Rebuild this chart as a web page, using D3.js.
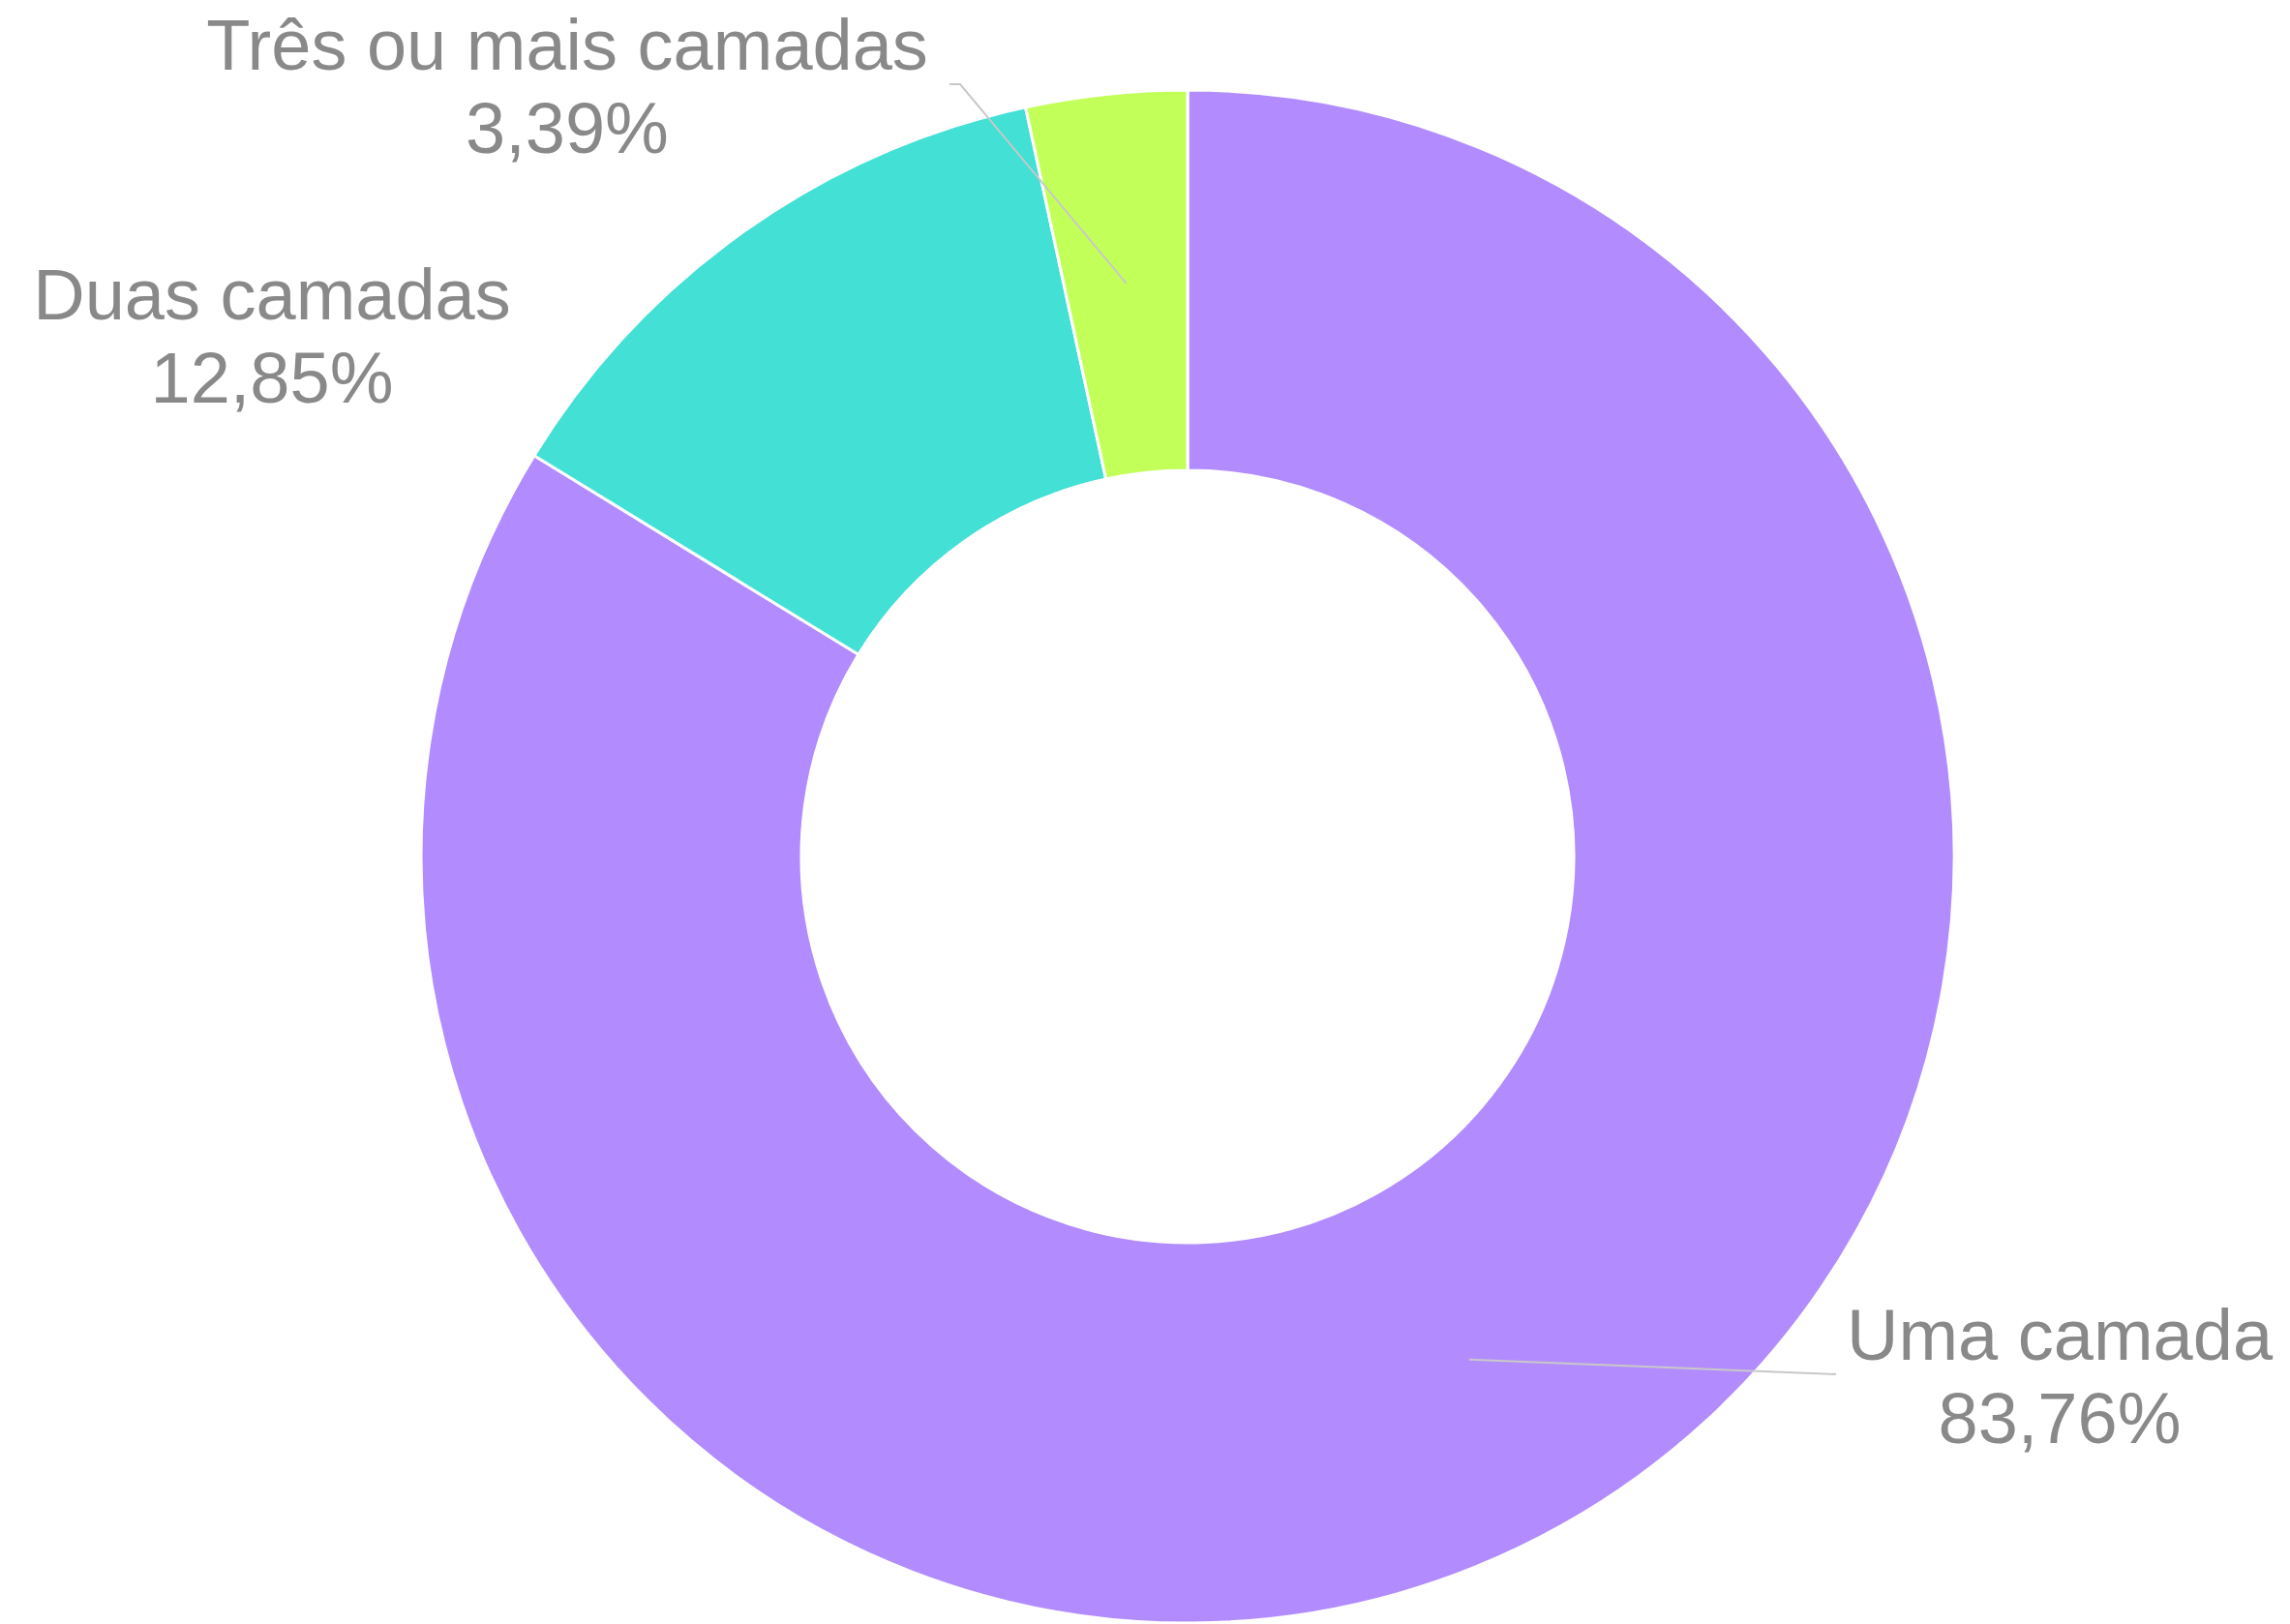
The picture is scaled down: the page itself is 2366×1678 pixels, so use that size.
<!DOCTYPE html>
<html>
<head>
<meta charset="utf-8">
<script src="https://cdn.jsdelivr.net/npm/d3@7"></script>
<style>
  html, body { margin: 0; padding: 0; background: #fff; }
  svg { display: block; }
</style>
</head>
<body>
<div id="chart"></div>
<script>
// data
const categories = ['Uma camada', 'Duas camadas', 'Três ou mais camadas']
const shares = [83.76, 12.85, 3.39]
const colors = ['#b28cfe', '#42e0d5', '#c3ff59']

const width = 2366
const height = 1678
const cx = 1227
const cy = 885
const outerR = 792
const innerR = 399

// label anchors (center x, first baseline) and leader line elbows
const labelLayout = [
  { x: 2128, y: 1405, line: [[1897, 1420]] },
  { x: 281, y: 330, line: null },
  { x: 586, y: 72, line: [[992, 87], [981, 87]] }
]

const pt = d3.formatLocale({ decimal: ',', thousands: '.', grouping: [3], currency: ['', ''] })
const fmt = v => pt.format('.2f')(v) + '%'

const svg = d3.select('#chart').append('svg')
  .attr('width', width)
  .attr('height', height)

const data = categories.map((c, i) => ({ name: c, value: shares[i], color: colors[i], label: labelLayout[i] }))

const pie = d3.pie().sort(null).value(d => d.value)
const arc = d3.arc().innerRadius(innerR).outerRadius(outerR)

const g = svg.append('g').attr('transform', `translate(${cx},${cy})`)

const arcs = pie(data)

g.selectAll('path.slice')
  .data(arcs)
  .join('path')
  .attr('class', 'slice')
  .attr('d', arc)
  .style('fill', d => d.data.color)
  .style('stroke', '#fff')
  .style('stroke-width', 3)

// leader lines from slice centroids
const lines = arcs.filter(d => d.data.label.line)
g.selectAll('polyline.leader')
  .data(lines)
  .join('polyline')
  .attr('class', 'leader')
  .attr('points', d => {
    const c = arc.centroid(d)
    const pts = [c].concat(d.data.label.line.map(p => [p[0] - cx, p[1] - cy]))
    return pts.map(p => p.join(',')).join(' ')
  })
  .style('fill', 'none')
  .style('stroke', '#c8c8c8')
  .style('stroke-width', 2)

// labels
const labels = svg.selectAll('text.lbl')
  .data(data)
  .join('text')
  .attr('class', 'lbl')
  .attr('text-anchor', 'middle')
  .attr('x', d => d.label.x)
  .attr('y', d => d.label.y)
  .style('font-family', '"Liberation Sans", Arial, sans-serif')
  .style('font-size', '74px')
  .style('fill', '#898989')

labels.append('tspan')
  .attr('x', d => d.label.x)
  .text(d => d.name)

labels.append('tspan')
  .attr('x', d => d.label.x)
  .attr('dy', 86)
  .text(d => fmt(d.value))
</script>
</body>
</html>
